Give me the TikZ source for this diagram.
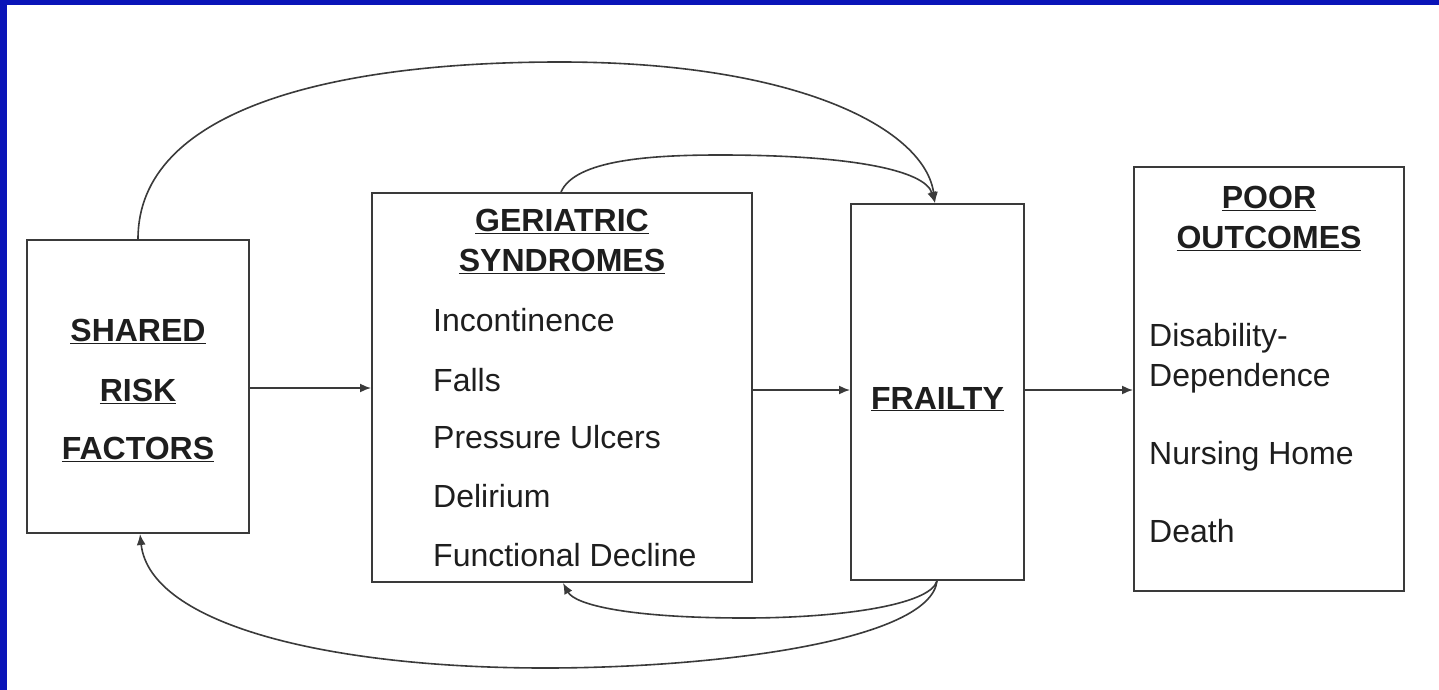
\documentclass[tikz,border=0pt]{standalone}
\usepackage{fontspec}
\setmainfont{Liberation Sans}
\usetikzlibrary{arrows.meta}
\definecolor{frameblue}{HTML}{0A14B8}
\definecolor{linegray}{HTML}{3A3A3A}
\definecolor{txtgray}{HTML}{1E1E1E}
\tikzset{
  box/.style={draw=linegray, line width=2pt, fill=white, inner sep=0pt},
  conn/.style={draw=linegray, line width=1.6pt, -{Latex[length=11pt,width=9pt]}},
  head/.style={anchor=base, inner sep=0pt, text=txtgray, font=\fontsize{32}{38}\selectfont\bfseries},
  item/.style={anchor=base west, inner sep=0pt, text=txtgray, font=\fontsize{32}{38}\selectfont},
}
\newcommand{\hd}[1]{\underline{#1}}
\begin{document}
\begin{tikzpicture}[x=1pt,y=-1pt]
\useasboundingbox (0,0) rectangle (1439,690);
\fill[frameblue] (0,0) rectangle (1439,690);
\fill[white] (7,5) rectangle (1439,690);

% boxes
\node[box, minimum width=222pt, minimum height=293pt] (srf) at (138,386.5) {};
\node[box, minimum width=380pt, minimum height=389pt] (gs) at (562,387.5) {};
\node[box, minimum width=173pt, minimum height=376pt] (fr) at (937.5,392) {};
\node[box, minimum width=270pt, minimum height=424pt] (po) at (1269,379) {};

% texts
\node[head] (t1) at (138,341) {\hd{SHARED}};
\node[head] (t2) at (138,401) {\hd{RISK}};
\node[head] (t3) at (138,459) {\hd{FACTORS}};

\node[head] (g1) at (562,231) {\hd{GERIATRIC}};
\node[head] (g2) at (562,271) {\hd{SYNDROMES}};
\node[item] (g3) at (433,331) {Incontinence};
\node[item] (g4) at (433,391) {Falls};
\node[item] (g5) at (433,448) {Pressure Ulcers};
\node[item] (g6) at (433,507) {Delirium};
\node[item] (g7) at (433,566) {Functional Decline};

\node[head] (f1) at (937.5,409) {\hd{FRAILTY}};

\node[head] (p1) at (1269,208) {\hd{POOR}};
\node[head] (p2) at (1269,248) {\hd{OUTCOMES}};
\node[item] (p3) at (1149,346) {Disability-};
\node[item] (p4) at (1149,386) {Dependence};
\node[item] (p5) at (1149,464) {Nursing Home};
\node[item] (p6) at (1149,542) {Death};

% straight connectors
\draw[conn] (srf.east |- 0,388) -- (gs.west |- 0,388);
\draw[conn] (gs.east |- 0,390) -- (fr.west |- 0,390);
\draw[conn] (fr.east |- 0,390) -- (po.west |- 0,390);

% coordinates on box edges
\coordinate (srfT) at (srf.north -| 138,0);
\coordinate (srfB) at (srf.south -| 140,0);
\coordinate (gsT) at (gs.north -| 561,0);
\coordinate (gsB) at (gs.south -| 563,0);
\coordinate (frT) at (fr.north -| 935,0);
\coordinate (frB) at (fr.south -| 937,0);

% curved connectors
\draw[conn] (srfT) .. controls (138,110) and (330,62) .. (560,62)
                   .. controls (800,62) and (925,130) .. (frT);
\draw[conn] (gsT) .. controls (575,160) and (650,155) .. (720,155)
                  .. controls (850,155) and (925,170) .. (frT);
\draw[conn] (frB) .. controls (930,605) and (840,618) .. (745,618)
                  .. controls (630,618) and (575,605) .. (gsB);
\draw[conn] (frB) .. controls (930,640) and (720,668) .. (545,668)
                  .. controls (330,668) and (150,625) .. (srfB);
\end{tikzpicture}
\end{document}
